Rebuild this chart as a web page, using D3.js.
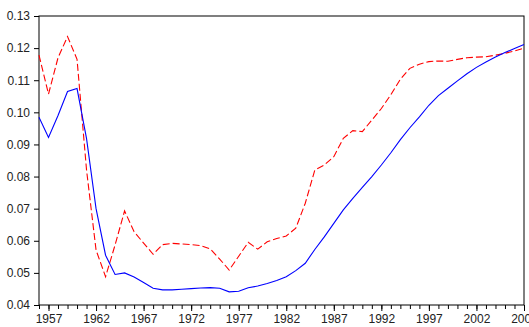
<!DOCTYPE html>
<html>
<head>
<meta charset="utf-8">
<script src="https://cdn.jsdelivr.net/npm/d3@7"></script>
<style>
  body { margin: 0; background: #fff; }
  svg { display: block; overflow: visible; }
  .axis text { font-family: "Liberation Sans Narrow", "Arial Narrow", "Liberation Sans", Arial, sans-serif; font-size: 12px; fill: #222; }
</style>
</head>
<body>
<svg id="chart"></svg>
<script>
const years = d3.range(1956, 2008);

const blueSeries = [
  0.0985, 0.0922, 0.0990, 0.1065, 0.1074, 0.0918, 0.0700, 0.0555, 0.0495, 0.0500,
  0.0487, 0.0470, 0.0452, 0.0447, 0.0447, 0.0449, 0.0451, 0.0453, 0.0454, 0.0452,
  0.0441, 0.0443, 0.0454, 0.0459, 0.0467, 0.0476, 0.0488, 0.0507, 0.0530, 0.0573,
  0.0612, 0.0654, 0.0696, 0.0732, 0.0766, 0.0800, 0.0836, 0.0874, 0.0915, 0.0952,
  0.0986, 0.1022, 0.1052, 0.1075, 0.1098, 0.1120, 0.1140, 0.1157, 0.1172, 0.1186,
  0.1199, 0.1211
];

const redSeries = [
  0.1178, 0.1057, 0.1170, 0.1236, 0.1165, 0.0820, 0.0571, 0.0488, 0.0587, 0.0693,
  0.0628, 0.0593, 0.0558, 0.0588, 0.0592, 0.0590, 0.0588, 0.0585, 0.0575, 0.0543,
  0.0509, 0.0552, 0.0595, 0.0574, 0.0597, 0.0607, 0.0615, 0.0639, 0.0717, 0.0820,
  0.0836, 0.0862, 0.0919, 0.0943, 0.0940, 0.0976, 0.1012, 0.1055, 0.1103, 0.1137,
  0.1150, 0.1158, 0.1160, 0.1159, 0.1165, 0.1170, 0.1172, 0.1173, 0.1178, 0.1184,
  0.1191, 0.1200
];

const majorYears = [1957, 1962, 1967, 1972, 1977, 1982, 1987, 1992, 1997, 2002, 2007];
const yTicks = [0.04, 0.05, 0.06, 0.07, 0.08, 0.09, 0.10, 0.11, 0.12, 0.13];

const width = 529, height = 327;
const margin = { top: 16, right: 5, bottom: 22, left: 39 };
const innerW = width - margin.left - margin.right;
const innerH = height - margin.top - margin.bottom;

const svg = d3.select("#chart")
    .attr("width", width)
    .attr("height", height);

const g = svg.append("g")
    .attr("transform", `translate(${margin.left},${margin.top})`);

const x = d3.scaleLinear().domain([1956, 2007]).range([0, innerW]);
const y = d3.scaleLinear().domain([0.04, 0.13]).range([innerH, 0]);

// frame
g.append("rect")
    .attr("width", innerW)
    .attr("height", innerH)
    .attr("fill", "none")
    .attr("stroke", "#000")
    .attr("stroke-width", 1);

// minor year ticks
g.append("g")
    .attr("class", "axis")
    .attr("transform", `translate(0,${innerH})`)
    .call(d3.axisBottom(x).tickValues(years).tickSize(4).tickFormat(""))
    .call(a => a.select(".domain").remove());

// major year ticks + labels (2007 runs off the right edge as in the original)
g.append("g")
    .attr("class", "axis")
    .attr("transform", `translate(0,${innerH})`)
    .call(d3.axisBottom(x).tickValues(majorYears).tickSize(6).tickPadding(3).tickFormat(d3.format("d")))
    .call(a => a.select(".domain").remove());

g.append("g")
    .attr("class", "axis")
    .call(d3.axisLeft(y).tickValues(yTicks).tickSize(5).tickPadding(4).tickFormat(d3.format(".2f")))
    .call(a => a.select(".domain").remove());

g.selectAll(".axis line").attr("stroke", "#000");

const line = d3.line()
    .x((d, i) => x(years[i]))
    .y(d => y(d));

g.append("path")
    .datum(redSeries)
    .attr("d", line)
    .attr("fill", "none")
    .attr("stroke", "#ff0000")
    .attr("stroke-width", 1.1)
    .attr("stroke-dasharray", "7,3");

g.append("path")
    .datum(blueSeries)
    .attr("d", line)
    .attr("fill", "none")
    .attr("stroke", "#0000ff")
    .attr("stroke-width", 1.1);
</script>
</body>
</html>
